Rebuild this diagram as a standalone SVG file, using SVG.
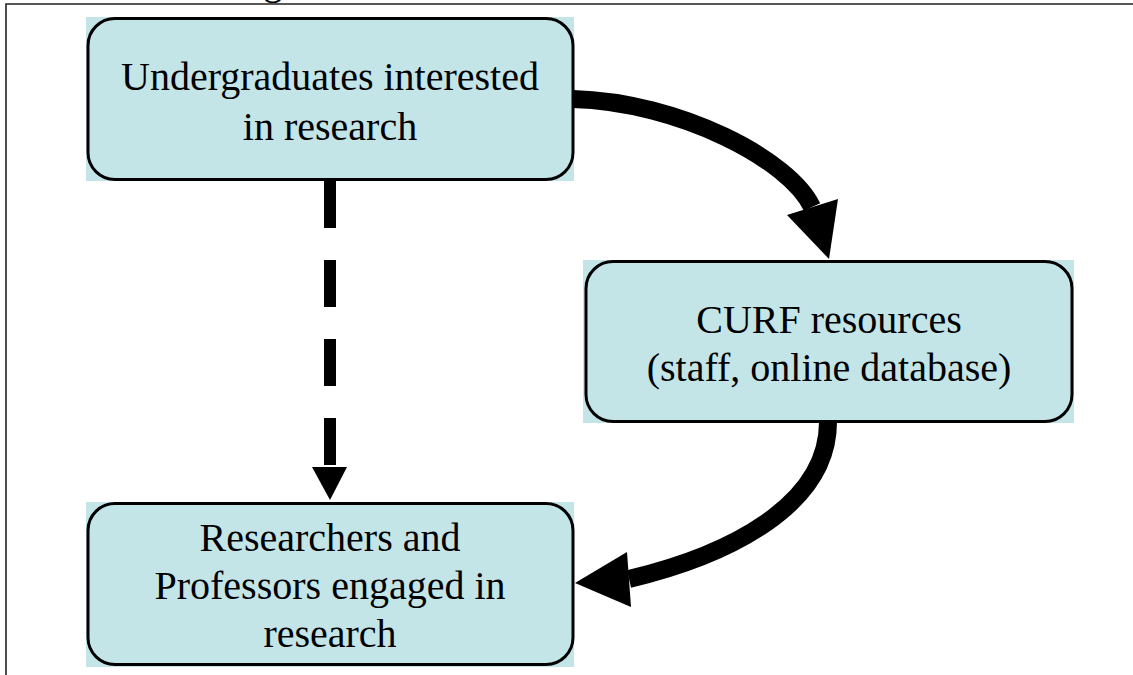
<svg xmlns="http://www.w3.org/2000/svg" width="1133" height="675" viewBox="0 0 1133 675">
<style>
.bg{fill:#C4E5E8;}
.box{fill:#C4E5E8;stroke:#000;stroke-width:3;}
.t{font-family:"Liberation Serif","Times New Roman",serif;font-size:40px;fill:#000;text-anchor:middle;}
.frame{fill:none;stroke:#222;stroke-width:1.6;}
.thick{fill:none;stroke:#000;stroke-width:18;}
</style>
<rect width="1133" height="675" fill="#fff"/>
<text class="t" x="273" y="-6">g</text>
<path class="frame" d="M6,675 V4 H1133"/>
<g id="connectors">
<line x1="330" y1="181" x2="330" y2="466" stroke="#000" stroke-width="12" stroke-dasharray="47 32"/>
<polygon points="312,467 347,467 330,500" fill="#000"/>
<path class="thick" d="M573,99 C680,102 790,160 812,207"/>
<polygon points="787,215 838,199 829,259" fill="#000"/>
<path class="thick" d="M828,422 C828,505 730,555 629,579"/>
<polygon points="627,552 631,607 575,583" fill="#000"/>
</g>
<g id="node1">
<rect class="bg" x="86" y="17" width="488" height="164"/>
<rect class="box" x="88" y="18.5" width="485" height="161" rx="27"/>
<text class="t" x="330" y="90">Undergraduates interested</text>
<text class="t" x="330" y="140">in research</text>
</g>
<g id="node2">
<rect class="bg" x="583" y="260" width="491" height="163"/>
<rect class="box" x="586" y="261.5" width="486" height="160" rx="27"/>
<text class="t" x="829" y="333">CURF resources</text>
<text class="t" x="829" y="381">(staff, online database)</text>
</g>
<g id="node3">
<rect class="bg" x="86" y="502" width="488" height="165"/>
<rect class="box" x="88" y="503.5" width="485" height="161" rx="27"/>
<text class="t" x="330" y="551">Researchers and</text>
<text class="t" x="330" y="599">Professors engaged in</text>
<text class="t" x="330" y="647">research</text>
</g>
</svg>
